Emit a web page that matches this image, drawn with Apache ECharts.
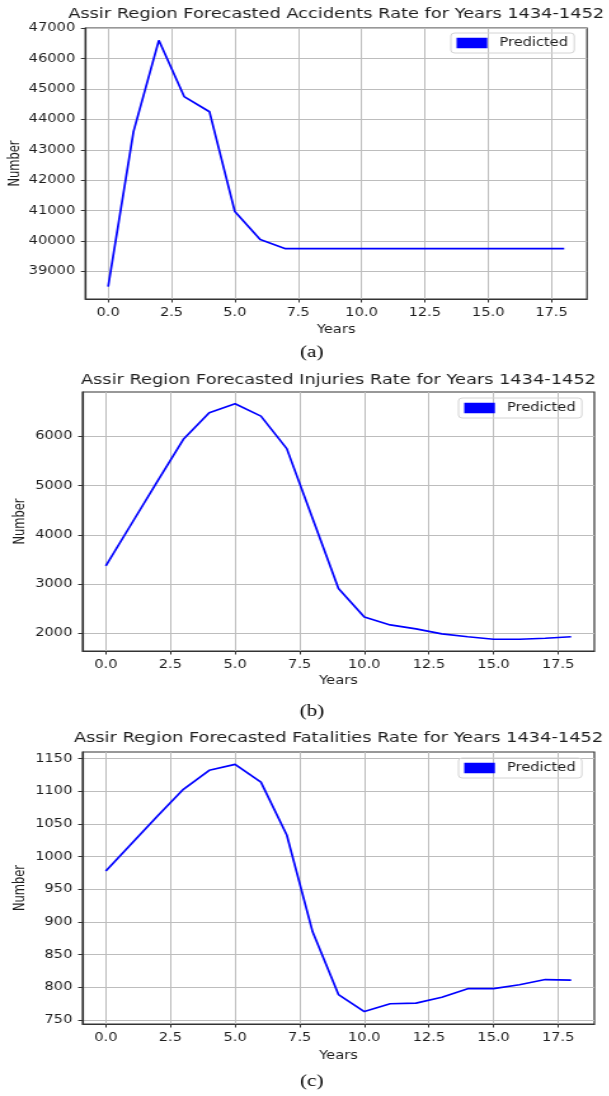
<!DOCTYPE html>
<html>
<head>
<meta charset="utf-8">
<script src="https://cdn.jsdelivr.net/npm/echarts@6/dist/echarts.min.js"></script>
<style>
  html, body { margin: 0; padding: 0; background: #fff; overflow: hidden; }
  /* the source figure is stretched sideways, so the chart is drawn narrow and widened */
  #chart { width: 479.5px; height: 1096px; transform: scaleX(1.27); transform-origin: 0 0; }
</style>
</head>
<body>
<div id="chart"></div>
<script>
// years index 0..18 (1434-1452)
const years = [0, 1, 2, 3, 4, 5, 6, 7, 8, 9, 10, 11, 12, 13, 14, 15, 16, 17, 18]
const accidents = [38500, 43600, 46600, 44750, 44250, 40970, 40050, 39750, 39750, 39750,
  39750, 39750, 39750, 39750, 39750, 39750, 39750, 39750, 39750]
const injuries = [3370, 4230, 5090, 5940, 6480, 6660, 6410, 5750, 4330, 2910,
  2330, 2170, 2090, 1990, 1930, 1880, 1880, 1900, 1930]
const fatalities = [978, 1020, 1062, 1103, 1132, 1141, 1114, 1033, 885, 789,
  763, 775, 776, 785, 798, 798, 804, 812, 811]

const xTicks = [0, 2.5, 5, 7.5, 10, 12.5, 15, 17.5]
const yTicksA = [39000, 40000, 41000, 42000, 43000, 44000, 45000, 46000, 47000]
const yTicksB = [2000, 3000, 4000, 5000, 6000]
const yTicksC = [750, 800, 850, 900, 950, 1000, 1050, 1100, 1150]

const titles = [
  'Assir Region Forecasted Accidents Rate for Years 1434-1452',
  'Assir Region Forecasted Injuries Rate for Years 1434-1452',
  'Assir Region Forecasted Fatalities Rate for Years 1434-1452'
]
const captions = ['(a)', '(b)', '(c)']

const FONT = 'DejaVu Sans'
const TXT = '#1e1e1e'

const grids = [
  { left: 67.2, top: 28, width: 395, height: 271 },
  { left: 65, top: 392, width: 403, height: 259 },
  { left: 65, top: 752, width: 403, height: 272 }
]
const yRanges = [[38095, 47005], [1641, 6900], [744, 1160]]
const yTickSets = [yTicksA, yTicksB, yTicksC]
const seriesData = [accidents, injuries, fatalities]
const legendPos = [[355, 33], [361, 398], [361, 758]]
const titleY = [14, 380, 738]
const numberX = [11.8, 16.5, 16.5]
const yearsY = [330, 681, 1056]
const captionY = [353, 712, 1082]

const xAxes = grids.map((g, i) => ({
  type: 'value',
  gridIndex: i,
  min: -0.9,
  max: 18.9,
  axisLine: { show: true, onZero: false, lineStyle: { color: '#333', width: 1.2 } },
  axisTick: { show: true, length: 3.5, customValues: xTicks, lineStyle: { color: '#333' } },
  axisLabel: {
    customValues: xTicks,
    formatter: v => v.toFixed(1),
    margin: 8,
    fontFamily: FONT, fontSize: 11.5, color: TXT
  },
  splitLine: { show: true, lineStyle: { color: '#bdbdbd', width: 1 } }
}))

const yAxes = grids.map((g, i) => ({
  type: 'value',
  gridIndex: i,
  min: yRanges[i][0],
  max: yRanges[i][1],
  axisLine: { show: true, onZero: false, lineStyle: { color: '#333', width: 1.2 } },
  axisTick: { show: true, length: 3.5, customValues: yTickSets[i], lineStyle: { color: '#333' } },
  axisLabel: {
    customValues: yTickSets[i],
    formatter: v => String(v),
    margin: 8,
    fontFamily: FONT, fontSize: 11.5, color: TXT
  },
  splitLine: { show: true, lineStyle: { color: '#bdbdbd', width: 1 } }
}))

const series = seriesData.map((vals, i) => ({
  name: 'Predicted',
  type: 'line',
  xAxisIndex: i,
  yAxisIndex: i,
  data: years.map((x, k) => [x, vals[k]]),
  showSymbol: false,
  lineStyle: { color: '#0000ff', width: 1.7 },
  itemStyle: { color: '#0000ff' }
}))

const legends = legendPos.map(p => ({
  left: p[0],
  top: p[1],
  data: ['Predicted'],
  icon: 'rect',
  itemWidth: 24.2,
  itemHeight: 10.5,
  padding: [4, 5, 4, 4.5],
  borderColor: '#d4d4d4',
  borderWidth: 1,
  borderRadius: 3,
  selectedMode: false,
  textStyle: { fontFamily: FONT, fontSize: 11.5, color: TXT, padding: [0, 0, 0, 4.5] }
}))

const graphic = []
grids.forEach((g, i) => {
  const cx = g.left + g.width / 2
  graphic.push({
    type: 'text', x: cx, y: titleY[i],
    style: { text: titles[i], font: '14px "DejaVu Sans"', fill: TXT, align: 'center', verticalAlign: 'middle' }
  })
  graphic.push({
    type: 'text', x: numberX[i], y: g.top + g.height / 2, rotation: Math.PI / 2,
    style: { text: 'Number', font: '11.5px "DejaVu Sans"', fill: TXT, align: 'center', verticalAlign: 'middle' }
  })
  graphic.push({
    type: 'text', x: cx, y: yearsY[i],
    style: { text: 'Years', font: '11.5px "DejaVu Sans"', fill: TXT, align: 'center', verticalAlign: 'middle' }
  })
  graphic.push({
    type: 'text', x: 245.5, y: captionY[i],
    style: { text: captions[i], font: '16.5px "Liberation Serif"', fill: '#000', align: 'center', verticalAlign: 'middle' }
  })
})

const chart = echarts.init(document.getElementById('chart'))
chart.setOption({
  backgroundColor: '#fff',
  animation: false,
  grid: grids.map(g => ({ ...g, show: true, borderColor: '#333', borderWidth: 1.2 })),
  xAxis: xAxes,
  yAxis: yAxes,
  legend: legends,
  series: series,
  graphic: graphic
})
</script>
</body>
</html>
